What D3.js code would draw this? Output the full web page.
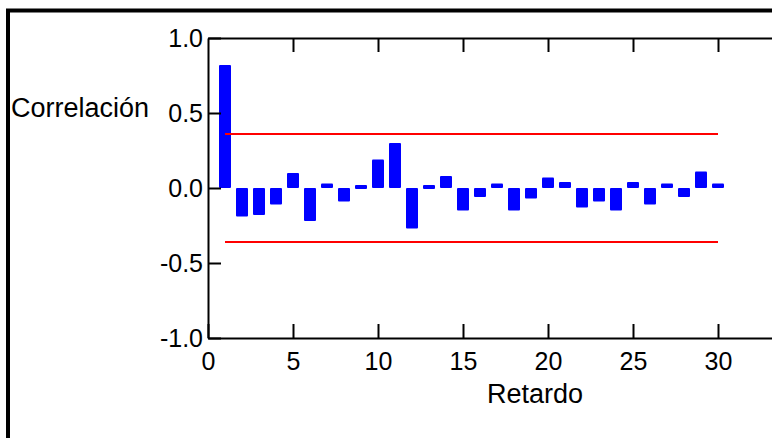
<!DOCTYPE html>
<html>
<head>
<meta charset="utf-8">
<script src="https://cdn.jsdelivr.net/npm/d3@7"></script>
<style>
  html, body { margin: 0; padding: 0; background: #fff; }
  svg { display: block; font-family: "Liberation Sans", Arial, sans-serif; }
</style>
</head>
<body>
<svg id="chart" width="772" height="438"></svg>
<script>
const lags = [1,2,3,4,5,6,7,8,9,10,11,12,13,14,15,16,17,18,19,20,21,22,23,24,25,26,27,28,29,30];
const acf = [0.82,-0.19,-0.18,-0.11,0.10,-0.22,0.03,-0.09,0.02,0.19,0.30,-0.27,0.02,0.08,-0.15,-0.06,0.03,-0.15,-0.07,0.07,0.04,-0.13,-0.09,-0.15,0.04,-0.11,0.03,-0.06,0.11,0.03];
const confBound = [0.36, -0.36];
const xTicks = [0,5,10,15,20,25,30];
const yTicks = [-1.0,-0.5,0.0,0.5,1.0];
const xLabel = "Retardo";
const yLabel = "Correlación";

const svg = d3.select("#chart");

// outer frame
svg.append("rect")
  .attr("x", 8).attr("y", 10.5)
  .attr("width", 800).attr("height", 460)
  .attr("fill", "none").attr("stroke", "#000").attr("stroke-width", 4);

const x = d3.scaleLinear().domain([0, 33.5]).range([208, 777.5]);
const y = d3.scaleLinear().domain([-1, 1]).range([338, 38]);

const barW = 12;

// bars
svg.append("g").selectAll("rect")
  .data(lags)
  .join("rect")
  .attr("x", (d) => x(d) - barW / 2)
  .attr("width", barW)
  .attr("y", (d, i) => y(Math.max(0, acf[i])))
  .attr("height", (d, i) => Math.max(4, Math.abs(y(acf[i]) - y(0))))
  .attr("rx", 1)
  .attr("fill", "#0000ff");

// confidence lines
svg.append("g").selectAll("line")
  .data(confBound)
  .join("line")
  .attr("x1", x(lags[0])).attr("x2", x(lags[lags.length - 1]))
  .attr("y1", (d) => y(d)).attr("y2", (d) => y(d))
  .attr("stroke", "#ff0000").attr("stroke-width", 2);

const fmt = (d) => d.toFixed(1);

// bottom axis
const gx = svg.append("g").attr("transform", `translate(0,${y(-1)})`)
  .call(d3.axisBottom(x).tickValues(xTicks).tickSizeInner(-14).tickSizeOuter(0).tickPadding(14).tickFormat(d3.format("d")));

// top axis
const gt = svg.append("g").attr("transform", `translate(0,${y(1)})`)
  .call(d3.axisTop(x).tickValues(xTicks.slice(1)).tickSizeInner(-14).tickSizeOuter(0).tickFormat(""));

// left axis
const gy = svg.append("g").attr("transform", `translate(${x(0)},0)`)
  .call(d3.axisLeft(y).tickValues(yTicks).tickSizeInner(-13).tickSizeOuter(0).tickPadding(5).tickFormat(fmt));

[gx, gt, gy].forEach(g => {
  g.select(".domain").attr("stroke", "#000").attr("stroke-width", 2);
  g.selectAll(".tick line").attr("stroke", "#000").attr("stroke-width", 2);
  g.selectAll(".tick text").attr("fill", "#000").style("font-size", "25px").style("font-family", "'Liberation Sans', Arial, sans-serif");
});

// axis titles
svg.append("text")
  .attr("x", 535).attr("y", 403)
  .attr("text-anchor", "middle")
  .style("font-size", "27px")
  .attr("fill", "#000")
  .text(xLabel);

svg.append("text")
  .attr("x", 11).attr("y", 117)
  .attr("text-anchor", "start")
  .style("font-size", "27px")
  .attr("fill", "#000")
  .text(yLabel);
</script>
</body>
</html>
